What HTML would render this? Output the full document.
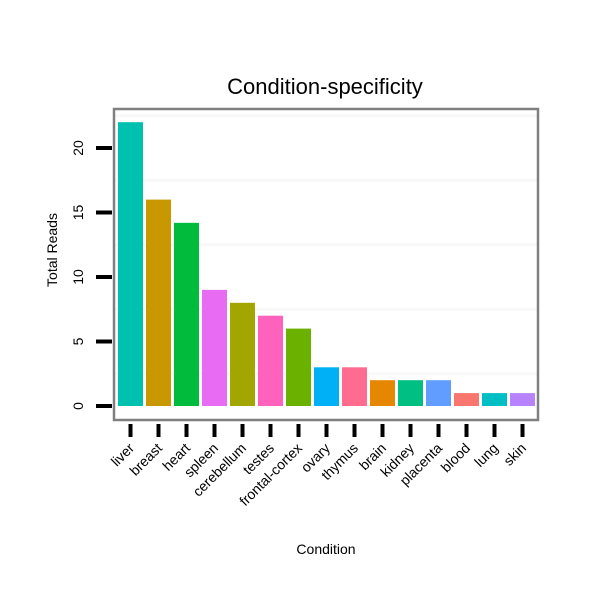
<!DOCTYPE html>
<html><head><meta charset="utf-8"><style>
body{margin:0;background:#fff;font-family:"Liberation Sans",sans-serif}
</style></head><body>
<svg id="c" width="600" height="600" xmlns="http://www.w3.org/2000/svg" font-family="Liberation Sans, sans-serif">
<text x="325" y="94" text-anchor="middle" font-size="22">Condition-specificity</text>
<text transform="translate(57,250) rotate(-90)" text-anchor="middle" font-size="14">Total Reads</text>
<text x="326" y="554" text-anchor="middle" font-size="14">Condition</text>
<g id="plot"></g>
</svg>
<script>
const categories=["liver","breast","heart","spleen","cerebellum","testes","frontal-cortex","ovary","thymus","brain","kidney","placenta","blood","lung","skin"];
const values=[22,16,14.2,9,8,7,6,3,3,2,2,2,1,1,1];
const colors=["#00C0AF","#C99800","#00BB3C","#E76BF3","#A3A500","#FF62BC","#6BB100","#00B0F6","#FF6C90","#E58700","#00C081","#619CFF","#F8766D","#00BFC4","#B983FF"];
const yTicks=[0,5,10,15,20];
const gridVals=[2.5,7.5,12.5,17.5,22.5];
const NS="http://www.w3.org/2000/svg";
const g=document.getElementById('plot');
const L=114,R=538,T=109,B=420;
const y=v=>406-v*12.9;
const step=28, x0=116;
const x=i=>x0+i*step;
function mk(t,a){const e=document.createElementNS(NS,t);for(const k in a)e.setAttribute(k,a[k]);g.appendChild(e);return e;}
gridVals.forEach(v=>{const e=mk('line',{x1:L,x2:R,y1:y(v),y2:y(v),stroke:'#f8f8f8','stroke-width':3});

});
values.forEach((v,i)=>{const e=mk('rect',{x:x(i)+2,y:y(v),width:25,height:v*12.9,fill:colors[i]});


const t=mk('line',{x1:x(i)+14.5,x2:x(i)+14.5,y1:424,y2:437,stroke:'#000','stroke-width':4});


const lb=mk('text',{transform:`translate(${x(i)+19},449) rotate(-45)`,'text-anchor':'end','font-size':14});
lb.textContent=categories[i];

});
yTicks.forEach(v=>{const t=mk('line',{x1:96,x2:112,y1:y(v),y2:y(v),stroke:'#000','stroke-width':4});


const lb=mk('text',{transform:`translate(83,${y(v)}) rotate(-90)`,'text-anchor':'middle','font-size':14});
lb.textContent=v;

});
const fr=mk('rect',{x:L,y:T,width:R-L,height:B-T,fill:'none',stroke:'#808080','stroke-width':2.5});


</script>
</body></html>
